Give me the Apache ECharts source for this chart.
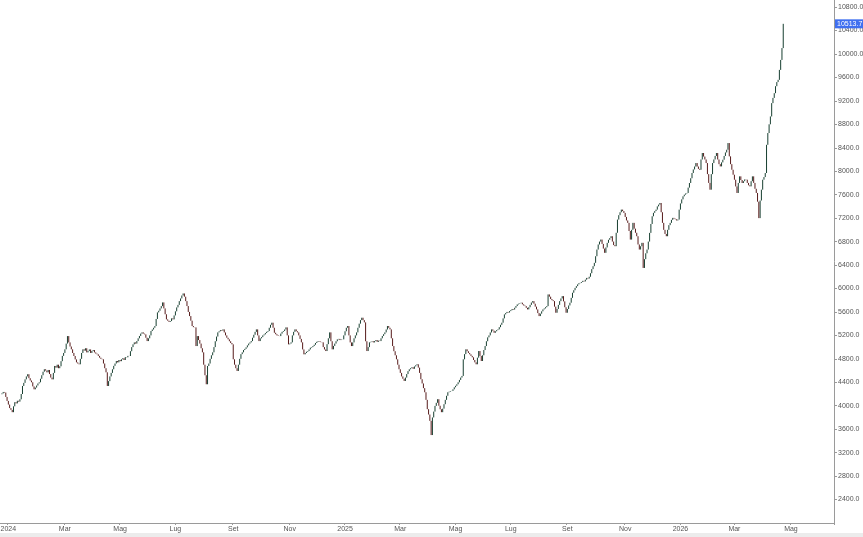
<!DOCTYPE html>
<html>
<head>
<meta charset="utf-8">
<script src="https://cdn.jsdelivr.net/npm/echarts@6/dist/echarts.min.js"></script>
<style>
html,body{margin:0;padding:0;background:#fff;}
#chart{width:863px;height:537px;}
</style>
</head>
<body>
<div id="chart"></div>
<script>
// ---- data ----
const startDate = '2023-12-22';      // first trading day shown
const axisDays = 649;                // weekdays covered by the x axis
const monthNames = ['Gen','Feb','Mar','Apr','Mag','Giu','Lug','Ago','Set','Ott','Nov','Dic'];
const yTicks = {min: 2000, max: 10920, step: 400};
const lastPrice = 10513.7;
const closes = [
4196,4210,4235,4225,4150,4082,4020,3960,3929,
3890,3990,4060,4040,4085,4070,4110,
4200,4337,4390,4450,4500,4537,
4470,4430,4400,4330,4280,
4310,4345,4380,4400,
4460,4520,4580,4622,
4600,4570,4610,4540,4480,4450,
4560,4678,4650,4700,4640,4673,
4760,4850,4900,4962,5060,5188,
5080,5010,4962,4900,4848,4790,4740,4720,4707,
4800,4900,4962,4940,4980,4910,4933,
4960,4900,4933,4950,4910,4890,4877,
4850,4820,4800,4792,4720,4640,4570,4337,
4420,4500,4560,4622,4680,4720,4763,
4740,4780,4760,4792,4810,4780,4830,4826,4850,4848,
4930,5000,5047,5080,5060,5103,5150,5190,5230,5251,
5230,5217,5160,5103,5150,5200,5274,
5300,5330,5359,5480,5592,5620,5660,5699,5762,
5660,5560,5473,5450,5430,5444,5490,5473,
5540,5610,5677,5720,5784,5830,5880,5915,
5860,5784,5700,5600,5529,5450,5359,5340,5336,5018,5188,5120,5060,4980,4911,4700,4520,4366,
4678,4720,4800,4860,4911,5000,5100,5180,5251,5270,
5290,5280,5302,5250,5200,5160,5132,5100,5070,5047,4792,4700,4640,4593,
4700,4800,4880,4911,4950,4970,4996,5030,5060,5080,5103,5160,5210,5260,5302,5200,
5103,5150,5170,5200,5217,5240,5260,5274,5330,5380,5416,
5330,5245,5220,5200,5190,5188,5230,5260,5274,5300,5336,5200,
5047,5060,5081,5200,5260,5302,5270,5251,5200,5140,5081,4960,
4877,4900,4920,4933,4960,4990,5000,5018,5040,5070,5090,5103,5095,5085,5081,
5000,4960,4933,5050,5150,5251,5100,4962,5020,5060,5100,5132,
5140,5120,5130,5132,5200,5270,5330,5359,5200,5080,5018,5080,
5150,5200,5251,5330,5400,5460,5501,5460,5422,5100,4933,
5000,5081,5090,5100,5080,5103,5120,5090,5110,5103,5150,5190,5220,5251,5300,5359,
5330,5302,5150,5018,4930,4860,4792,4700,4622,4560,4500,4460,4423,4480,
4540,4590,4622,4640,4656,4630,4670,4690,4707,4650,
4560,4452,4380,4300,4230,4100,3941,3850,3742,3500,3800,
3900,3997,4050,4111,4000,3940,3890,3950,4026,
4100,4170,4230,4240,4250,4253,4280,4315,4340,4366,4400,4440,4480,4508,
4792,4880,4962,4930,4900,4877,4850,4826,4780,4740,4707,4820,4933,
4850,4763,4860,4950,5018,5100,5166,5200,5250,5302,5280,5245,
5270,5290,5302,5340,5380,5416,5490,5558,5580,5600,5590,5614,
5630,5650,5640,5671,5700,5728,5740,5750,5757,5730,5710,5699,5670,5643,
5680,5720,5760,5784,5740,5690,5643,5580,5529,5570,5610,5643,
5660,5680,5699,5898,5860,5820,5800,5784,5690,5586,5650,5720,5784,5830,5869,
5780,5680,5586,5650,5710,5757,5840,5927,5970,6010,6040,6070,6090,6097,
6110,6130,6120,6150,6180,6170,6200,6260,6330,6380,6437,
6550,6664,6750,6800,6834,6760,6680,6608,
6700,6778,6830,6860,6891,6800,6740,6721,6950,7175,
7250,7300,7345,7320,7289,7220,7160,7119,6980,6834,
7000,7119,7020,6950,6891,6750,6664,6720,6778,6350,
6500,6600,6664,6800,6948,7100,7231,7290,7320,7345,7400,7430,7458,
7300,7119,7000,6930,6891,7000,7080,7119,7170,7204,7190,7180,7160,7175,7345,
7450,7520,7572,7600,7620,7629,7720,7799,7880,7969,8030,8080,8139,
8080,8040,8025,8200,8310,8250,8200,8139,7950,7800,7685,
7950,8139,8200,8260,8310,8200,8120,8082,8150,8196,8260,8320,8366,8480,
8253,8120,8025,7940,7855,7740,7629,7800,7912,7850,7799,7830,7860,7855,
7800,7760,7742,7830,7912,7800,7700,7629,7480,7200,7500,7685,7855,7900,7969,8450,
8651,8800,8934,9161,9250,9331,9450,9520,9558,9728,9898,10100,10513.7
];

// ---- build categories (weekdays) ----
const dates = [];
{
  const d = new Date(startDate + 'T12:00:00Z');
  while (dates.length < axisDays) {
    const wd = d.getUTCDay();
    if (wd !== 0 && wd !== 6) {
      dates.push(d.toISOString().slice(0, 10));
    }
    d.setUTCDate(d.getUTCDate() + 1);
  }
}
const labelIdx = new Set();
for (let i = 1; i < dates.length; i++) {
  const m = +dates[i].slice(5, 7);
  const pm = +dates[i - 1].slice(5, 7);
  if (m !== pm && m % 2 === 1) labelIdx.add(i);
}
const candles = closes.map((c, i) => {
  const o = i === 0 ? c : closes[i - 1];
  return [o, c, Math.min(o, c), Math.max(o, c)];
});

const chart = echarts.init(document.getElementById('chart'));
chart.setOption({
  animation: false,
  backgroundColor: '#ffffff',
  grid: {left: 0, right: 29, top: 0, bottom: 14, containLabel: false, outerBoundsMode: 'none'},
  graphic: [{
    type: 'rect', left: 0, bottom: 0, silent: true, z: -1,
    shape: {width: 863, height: 4},
    style: {fill: '#ececec'}
  }],
  xAxis: {
    type: 'category',
    data: dates,
    boundaryGap: true,
    axisLine: {lineStyle: {color: '#9a9a9a', width: 1}},
    axisTick: {show: true, interval: (i) => labelIdx.has(i), length: 2, lineStyle: {color: '#9a9a9a'}},
    axisLabel: {
      interval: (i) => labelIdx.has(i),
      fontFamily: 'Liberation Sans, Arial, sans-serif',
      fontSize: 7, color: '#555', margin: 3,
      formatter: (v) => {
        const m = +v.slice(5, 7);
        return m === 1 ? v.slice(0, 4) : monthNames[m - 1];
      }
    },
    splitLine: {show: false}
  },
  yAxis: {
    type: 'value',
    position: 'right',
    min: yTicks.min, max: yTicks.max, interval: yTicks.step,
    axisLine: {show: true, lineStyle: {color: '#9a9a9a', width: 1}},
    axisTick: {show: true, length: 3, lineStyle: {color: '#9a9a9a'}},
    axisLabel: {
      showMinLabel: false, showMaxLabel: false,
      fontFamily: 'Liberation Sans, Arial, sans-serif',
      fontSize: 7, color: '#555', margin: 4,
      formatter: (v) => v.toFixed(1)
    },
    splitLine: {show: false}
  },
  series: [{
    type: 'candlestick',
    data: candles,
    barWidth: 2,
    itemStyle: {
      color: '#173f30', color0: '#561a1a',
      borderColor: '#173f30', borderColor0: '#561a1a', borderWidth: 1
    },
    markLine: {
      silent: true, symbol: 'none',
      lineStyle: {color: 'rgba(0,0,0,0)', width: 0},
      data: [{yAxis: lastPrice}],
      label: {
        show: true,
        position: 'end', distance: 1,
        formatter: () => lastPrice.toFixed(1),
        backgroundColor: '#3f6ff0', color: '#fff',
        fontFamily: 'Liberation Sans, Arial, sans-serif',
        fontSize: 7, padding: [1, 2, 1, 2]
      }
    }
  }]
});
</script>
</body>
</html>
